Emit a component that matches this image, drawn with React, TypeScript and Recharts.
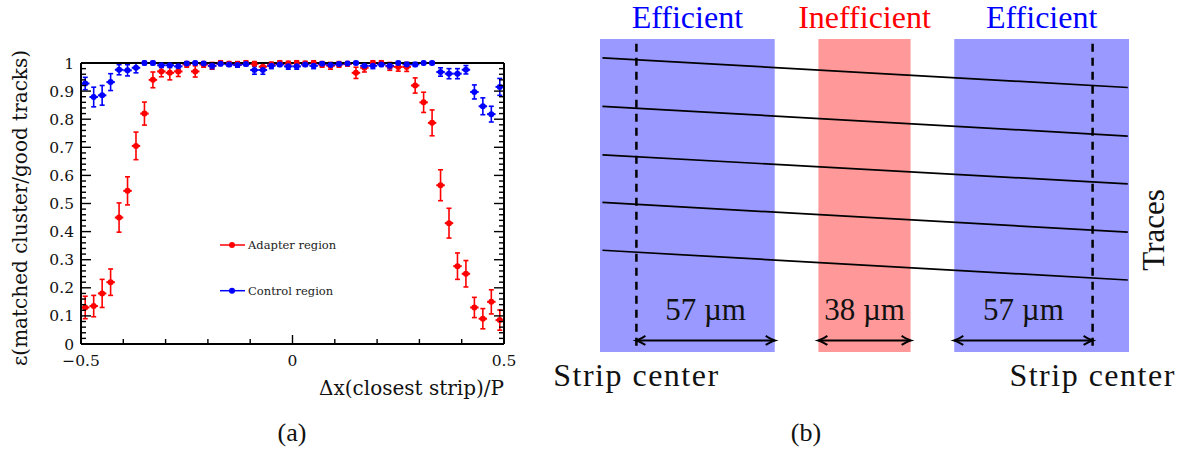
import React from 'react'
import {
  ScatterChart, Scatter, XAxis, YAxis, ErrorBar, Legend,
  ComposedChart, Line, ReferenceArea, ReferenceLine, ReferenceDot,
} from 'recharts'

// ---- (a) efficiency vs. track position within the strip pitch ----

// Δx(closest strip)/P bin centres, bins are 0.02 wide
const binCenters = [
  -0.49, -0.47, -0.45, -0.43, -0.41, -0.39, -0.37, -0.35, -0.33, -0.31,
  -0.29, -0.27, -0.25, -0.23, -0.21, -0.19, -0.17, -0.15, -0.13, -0.11,
  -0.09, -0.07, -0.05, -0.03, -0.01,
  0.01, 0.03, 0.05, 0.07, 0.09, 0.11, 0.13, 0.15, 0.17, 0.19,
  0.21, 0.23, 0.25, 0.27, 0.29, 0.31, 0.33, 0.35, 0.37, 0.39,
  0.41, 0.43, 0.45, 0.47, 0.49,
]
const binHalfWidth = 0.01

const adapterEff = [
  0.13, 0.135, 0.18, 0.22, 0.45, 0.545, 0.705, 0.82, 0.94, 0.97,
  0.965, 0.97, 0.995, 0.97, 0.995, 0.99, 1.0, 0.997, 0.995, 1.0,
  0.997, 0.987, 0.995, 1.0, 0.998,
  1.0, 0.998, 1.0, 0.995, 0.99, 0.995, 0.997, 0.965, 0.983, 1.0,
  1.0, 0.988, 0.986, 0.986, 0.92, 0.86, 0.787, 0.565, 0.43, 0.277,
  0.25, 0.13, 0.09, 0.15, 0.085,
]
const adapterErr = [
  0.04, 0.038, 0.05, 0.047, 0.052, 0.05, 0.049, 0.041, 0.028, 0.019,
  0.025, 0.018, 0.01, 0.02, 0.01, 0.012, 0.008, 0.008, 0.01, 0.008,
  0.008, 0.012, 0.008, 0.008, 0.008,
  0.008, 0.008, 0.008, 0.01, 0.012, 0.01, 0.008, 0.02, 0.015, 0.008,
  0.008, 0.014, 0.015, 0.016, 0.027, 0.036, 0.046, 0.055, 0.053, 0.047,
  0.047, 0.036, 0.036, 0.043, 0.036,
]
const controlEff = [
  0.927, 0.879, 0.885, 0.932, 0.976, 0.974, 0.983, 1.0, 1.0, 0.992,
  0.992, 0.988, 0.998, 1.0, 0.998, 0.99, 0.997, 0.995, 0.993, 0.996,
  0.975, 0.975, 0.99, 0.995, 0.988,
  0.988, 0.995, 0.99, 0.997, 0.993, 0.996, 0.998, 1.0, 0.99, 0.99,
  0.995, 0.99, 1.0, 0.995, 0.995, 1.0, 1.0, 0.968, 0.962, 0.962,
  0.976, 0.897, 0.846, 0.818, 0.915,
]
const controlErr = [
  0.022, 0.035, 0.035, 0.03, 0.018, 0.02, 0.018, 0.006, 0.006, 0.008,
  0.008, 0.01, 0.006, 0.005, 0.006, 0.01, 0.006, 0.007, 0.008, 0.006,
  0.015, 0.015, 0.01, 0.007, 0.01,
  0.01, 0.007, 0.01, 0.006, 0.008, 0.006, 0.006, 0.005, 0.01, 0.01,
  0.007, 0.01, 0.005, 0.007, 0.007, 0.005, 0.005, 0.015, 0.018, 0.018,
  0.015, 0.025, 0.03, 0.028, 0.03,
]

const xTicks = [-0.5, -0.4, -0.3, -0.2, -0.1, 0, 0.1, 0.2, 0.3, 0.4, 0.5]
const xMajorTicks = [-0.5, 0, 0.5]
const xTickLabels = ['\u22120.5', '0', '0.5']
const yMajorTicks = [0, 0.1, 0.2, 0.3, 0.4, 0.5, 0.6, 0.7, 0.8, 0.9, 1]
const yTickLabels = ['0', '0.1', '0.2', '0.3', '0.4', '0.5', '0.6', '0.7', '0.8', '0.9', '1']
// five subdivisions between labelled ticks
const yTicks = Array.from({ length: 51 }, (_, i) => Math.round(i * 2) / 100)

const RED = '#ff0000'
const BLUE = '#0000ff'
const plotFont = '"DejaVu Serif", serif'

const adapterData = binCenters.map((x, i) => ({ x, y: adapterEff[i], ex: binHalfWidth, ey: adapterErr[i] }))
const controlData = binCenters.map((x, i) => ({ x, y: controlEff[i], ex: binHalfWidth, ey: controlErr[i] }))

const near = (a: number, b: number) => Math.abs(a - b) < 1e-6
const yMajorIndex = (v: number) => yMajorTicks.findIndex((t) => near(t, v))
const xMajorIndex = (v: number) => xMajorTicks.findIndex((t) => near(t, v))

const LeftTick = ({ x, y, payload }: any) => {
  const idx = yMajorIndex(payload.value)
  return (
    <g>
      <line x1={x} x2={x + (idx >= 0 ? 10 : 5)} y1={y} y2={y} stroke="#000" strokeWidth={1.4} />
      {idx >= 0 && (
        <text x={x - 7} y={y + 5.5} textAnchor="end" fontSize={15.5} fontFamily={plotFont} fill="#111">
          {yTickLabels[idx]}
        </text>
      )}
    </g>
  )
}

const RightTick = ({ x, y, payload }: any) => {
  const len = yMajorIndex(payload.value) >= 0 ? 10 : 5
  return <line x1={x} x2={x - len} y1={y} y2={y} stroke="#000" strokeWidth={1.4} />
}

const BottomTick = ({ x, y, payload }: any) => {
  const idx = xMajorIndex(payload.value)
  return (
    <g>
      <line x1={x} x2={x} y1={y} y2={y - (idx >= 0 ? 9 : 5)} stroke="#000" strokeWidth={1.4} />
      {idx >= 0 && (
        <text x={x} y={y + 22} textAnchor="middle" fontSize={15.5} fontFamily={plotFont} fill="#111">
          {xTickLabels[idx]}
        </text>
      )}
    </g>
  )
}

const TopTick = ({ x, y, payload }: any) => {
  const len = xMajorIndex(payload.value) >= 0 ? 9 : 5
  return <line x1={x} x2={x} y1={y} y2={y + len} stroke="#000" strokeWidth={1.4} />
}

const renderLegend = ({ payload }: any) => (
  <svg width={150} height={72} style={{ display: 'block', overflow: 'visible' }}>
    {(payload || []).map((entry: any, i: number) => (
      <g key={i} transform={`translate(0, ${9 + i * 45.7})`}>
        <line x1={2} x2={27} y1={0} y2={0} stroke={entry.color} strokeWidth={1.5} />
        <circle cx={14} cy={0} r={3} fill={entry.color} />
        <text x={30} y={4} fontSize={11.5} fontFamily={plotFont} fill="#222">{entry.value}</text>
      </g>
    ))}
  </svg>
)

function EfficiencyPlot() {
  return (
    <div className="eff-plot" style={{ position: 'absolute', left: 0, top: 0 }}>
      <style>{'.eff-plot g[clip-path]{clip-path:none !important}'}</style>
      <ScatterChart width={540} height={459} margin={{ top: 0, right: 0, bottom: 0, left: 0 }}>
        <XAxis
          type="number" dataKey="x" domain={[-0.5, 0.5]} allowDataOverflow
          ticks={xTicks} interval={0} height={115}
          tickSize={0} tickMargin={0} tickLine={false} tick={BottomTick}
          axisLine={{ stroke: '#000', strokeWidth: 2 }}
          label={(props: any) => {
            const vb = props.viewBox
            return (
              <text x={vb.x + vb.width} y={vb.y + 51} textAnchor="end" fontSize={20} fontFamily={plotFont} fill="#111">
                Δx(closest strip)/P
              </text>
            )
          }}
        />
        <XAxis
          xAxisId="top" orientation="top" type="number" domain={[-0.5, 0.5]} allowDataOverflow
          ticks={xTicks} interval={0} height={63}
          tickSize={0} tickMargin={0} tickLine={false} tick={TopTick}
          axisLine={{ stroke: '#000', strokeWidth: 2 }}
        />
        <YAxis
          type="number" dataKey="y" domain={[0, 1]} allowDataOverflow
          ticks={yTicks} interval={0} width={81}
          tickSize={0} tickMargin={0} tickLine={false} tick={LeftTick}
          axisLine={{ stroke: '#000', strokeWidth: 2 }}
          label={() => (
            <text x={27} y={208} transform="rotate(-90, 27, 208)" textAnchor="middle" fontSize={20} fontFamily={plotFont} fill="#111">
              ε(matched cluster/good tracks)
            </text>
          )}
        />
        <YAxis
          yAxisId="right" orientation="right" type="number" domain={[0, 1]} allowDataOverflow
          ticks={yTicks} interval={0} width={36}
          tickSize={0} tickMargin={0} tickLine={false} tick={RightTick}
          axisLine={{ stroke: '#000', strokeWidth: 2 }}
        />
        <Legend
          layout="vertical" align="center" verticalAlign="middle"
          content={renderLegend} wrapperStyle={{ left: 218, top: 236, width: 150 }}
        />
        <Scatter
          name="Adapter region" data={adapterData} fill={RED} isAnimationActive={false}
          shape={(p: any) => <circle cx={p.cx} cy={p.cy} r={3} fill={RED} />}
        >
          <ErrorBar dataKey="ey" direction="y" width={2.5} stroke={RED} strokeWidth={1.6} isAnimationActive={false} />
          <ErrorBar dataKey="ex" direction="x" width={0} stroke={RED} strokeWidth={2} isAnimationActive={false} />
        </Scatter>
        <Scatter
          name="Control region" data={controlData} fill={BLUE} isAnimationActive={false}
          shape={(p: any) => <circle cx={p.cx} cy={p.cy} r={3} fill={BLUE} />}
        >
          <ErrorBar dataKey="ey" direction="y" width={2.5} stroke={BLUE} strokeWidth={1.6} isAnimationActive={false} />
          <ErrorBar dataKey="ex" direction="x" width={0} stroke={BLUE} strokeWidth={2} isAnimationActive={false} />
        </Scatter>
      </ScatterChart>
    </div>
  )
}

// ---- (b) sketch of the strip pitch, positions in µm ----

const stripCenters = [0, 188]
const efficientBands = [[-15, 57], [131, 203]]
const inefficientBand = [75, 113]
const arrowStarts = [0, 75, 131]
const arrowWidths = [57, 38, 57]
const traceX = [-14, 202.5]
const traceStartY = [94, 78.5, 63, 47.8, 32.5]
const traceEndY = [84.5, 69, 53.7, 38.3, 23]

const sketchFont = '"Liberation Serif", "Times New Roman", serif'
const BAND_BLUE = '#9999ff'
const BAND_RED = '#ff9999'

const DimensionArrow = (p: any) => {
  const { x1, y1, x2 } = p
  const y = y1
  const head = (tx: number, dir: number) =>
    `M${tx - dir * 9},${y - 4.5} Q${tx - dir * 3},${y - 0.8} ${tx},${y} Q${tx - dir * 3},${y + 0.8} ${tx - dir * 9},${y + 4.5}`
  return (
    <g>
      <line x1={x1} x2={x2} y1={y} y2={y} stroke="#000" strokeWidth={2} />
      <path d={head(x1, -1)} stroke="#000" strokeWidth={2} fill="none" />
      <path d={head(x2, 1)} stroke="#000" strokeWidth={2} fill="none" />
    </g>
  )
}

function PitchSketch() {
  const bandLabel = (value: string, fill: string) => ({
    value, position: 'top' as const, offset: 11, fill, fontSize: 32, fontFamily: sketchFont,
  })
  return (
    <div style={{ position: 'absolute', left: 540, top: 0 }}>
      <ComposedChart width={648} height={459} margin={{ top: 39, right: 59, bottom: 107, left: 60 }}>
        <XAxis type="number" dataKey="x" domain={[-15, 203]} allowDataOverflow hide />
        <YAxis type="number" domain={[0, 100]} allowDataOverflow hide />
        {efficientBands.map(([a, b], i) => (
          <ReferenceArea
            key={`eff-${i}`} x1={a} x2={b} y1={0} y2={100}
            fill={BAND_BLUE} fillOpacity={1} stroke="none"
            label={bandLabel('Efficient', BLUE)}
          />
        ))}
        <ReferenceArea
          x1={inefficientBand[0]} x2={inefficientBand[1]} y1={0} y2={100}
          fill={BAND_RED} fillOpacity={1} stroke="none"
          label={bandLabel('Inefficient', RED)}
        />
        {traceStartY.map((y0, i) => (
          <Line
            key={`trace-${i}`} type="linear" dataKey="y" dot={false} activeDot={false}
            data={[{ x: traceX[0], y: y0 }, { x: traceX[1], y: traceEndY[i] }]}
            stroke="#000" strokeWidth={1.7} isAnimationActive={false}
          />
        ))}
        {stripCenters.map((c) => (
          <ReferenceLine
            key={`sc-${c}`} segment={[{ x: c, y: 2 }, { x: c, y: 100 }]}
            stroke="#000" strokeWidth={2.5} strokeDasharray="8 6"
          />
        ))}
        {arrowStarts.map((s, i) => (
          <ReferenceLine
            key={`dim-${i}`} segment={[{ x: s, y: 3.7 }, { x: s + arrowWidths[i], y: 3.7 }]}
            shape={DimensionArrow}
          />
        ))}
        {arrowStarts.map((s, i) => (
          <ReferenceDot
            key={`dimlab-${i}`} x={s + arrowWidths[i] / 2} y={10.1} r={0} fill="none" stroke="none" ifOverflow="visible"
            label={{ value: `${arrowWidths[i]} µm`, position: 'top', offset: 0, fontSize: 31, fontFamily: sketchFont, fill: '#111' }}
          />
        ))}
        {stripCenters.map((c) => (
          <ReferenceDot
            key={`sclab-${c}`} x={c} y={-11} r={0} fill="none" stroke="none" ifOverflow="visible"
            label={{ value: 'Strip center', position: 'top', offset: 0, fontSize: 32, fontFamily: sketchFont, fill: '#111', letterSpacing: 1.5 }}
          />
        ))}
        <ReferenceDot
          x={213} y={39} r={0} fill="none" stroke="none" ifOverflow="visible"
          label={{ value: 'Traces', position: 'center', angle: -90, fontSize: 31, fontFamily: sketchFont, fill: '#111' }}
        />
      </ComposedChart>
    </div>
  )
}

const captionStyle: React.CSSProperties = {
  position: 'absolute', top: 420, width: 100, textAlign: 'center',
  fontFamily: sketchFont, fontSize: 26, lineHeight: 1, color: '#111',
}

export default function App() {
  return (
    <div style={{ position: 'absolute', left: 0, top: 0, width: 1188, height: 459, background: '#fff', overflow: 'hidden' }}>
      <EfficiencyPlot />
      <PitchSketch />
      <div style={{ ...captionStyle, left: 242 }}>(a)</div>
      <div style={{ ...captionStyle, left: 756 }}>(b)</div>
    </div>
  )
}
